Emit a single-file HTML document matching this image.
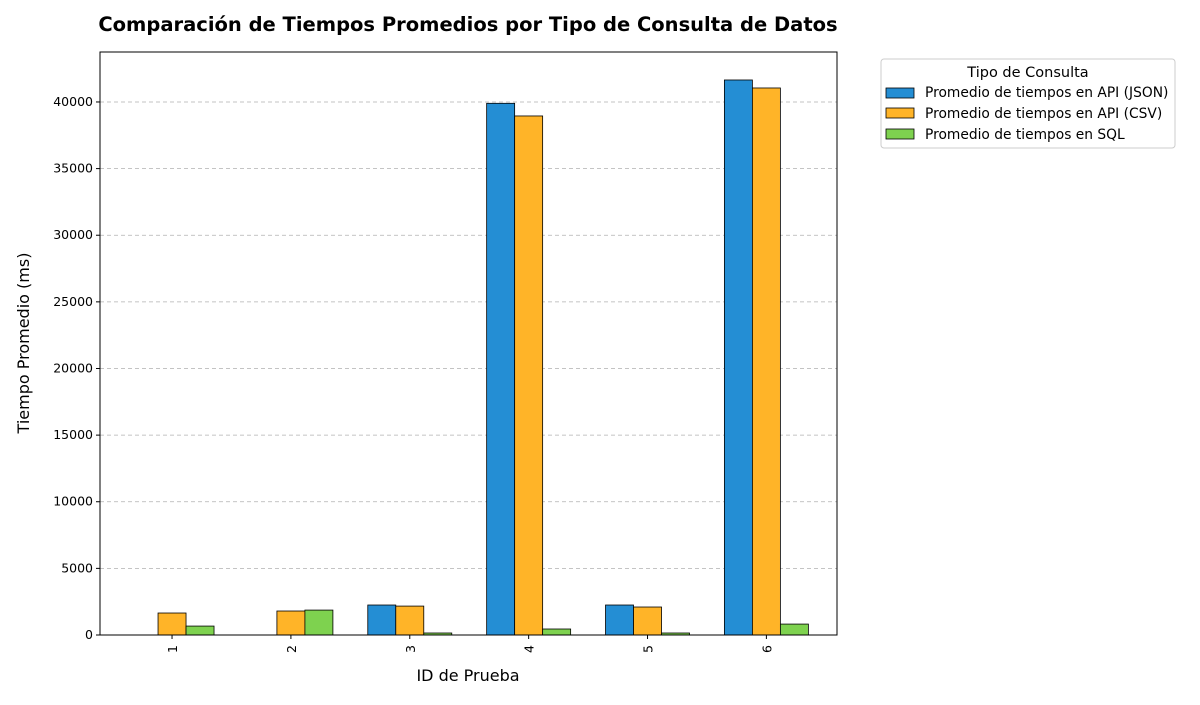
<!DOCTYPE html>
<html><head><meta charset="utf-8"><style>
body{margin:0;background:#fff;}
svg text{font-family:"DejaVu Sans","Liberation Sans",sans-serif;}
</style></head><body>
<svg id="chart" width="1200" height="700" xmlns="http://www.w3.org/2000/svg">
<text x="468" y="31" text-anchor="middle" font-size="19.5" font-weight="bold">Comparación de Tiempos Promedios por Tipo de Consulta de Datos</text>
<g id="grid"></g><g id="bars"></g><g id="axes"></g>
<text x="468" y="681" text-anchor="middle" font-size="16">ID de Prueba</text>
<text transform="translate(29,343) rotate(-90)" text-anchor="middle" font-size="16">Tiempo Promedio (ms)</text>
<g>
<rect x="881" y="59" width="294" height="89" rx="3" fill="#fff" stroke="#ccc"/>
<text x="1028" y="77" text-anchor="middle" font-size="14.5">Tipo de Consulta</text>
<g><rect x="886" y="88" width="28" height="10" fill="#248ed4" stroke="#000" stroke-width="0.8"/><text x="925" y="97" font-size="13.8">Promedio de tiempos en API (JSON)</text></g>
<g><rect x="886" y="108" width="28" height="10" fill="#ffb428" stroke="#000" stroke-width="0.8"/><text x="925" y="118" font-size="13.8">Promedio de tiempos en API (CSV)</text></g>
<g><rect x="886" y="129" width="28" height="10" fill="#7ed24f" stroke="#000" stroke-width="0.8"/><text x="925" y="139" font-size="13.8">Promedio de tiempos en SQL</text></g>
</g>
</svg>
<script>
const categories=["1","2","3","4","5","6"];
const jsonVals=[0,0,2250,39900,2250,41650];
const csvVals=[1650,1800,2170,38950,2100,41050];
const sqlVals=[670,1870,150,450,150,820];
const yTicks=[0,5000,10000,15000,20000,25000,30000,35000,40000];
const NS="http://www.w3.org/2000/svg";
const L=100,R=837,T=52,B=635,yMax=43750;
const y=v=>B-v/yMax*(B-T);
const step=(R-L)/6.2;
const xc=i=>L+step*(0.606+i);
const bw=28;
function mk(tag,attrs,parent){const e=document.createElementNS(NS,tag);for(const k in attrs)e.setAttribute(k,attrs[k]);parent.appendChild(e);return e;}
const grid=document.getElementById('grid'),bars=document.getElementById('bars'),axes=document.getElementById('axes');
yTicks.forEach(t=>{
 const g=mk('line',{x1:L,x2:R,y1:y(t),y2:y(t),stroke:'#b0b0b0','stroke-dasharray':'4,3','stroke-width':0.8},grid);
 
 
 mk('line',{x1:L-4,x2:L,y1:y(t),y2:y(t),stroke:'#000'},axes);
 const tx=mk('text',{x:L-7,y:y(t)+4,'text-anchor':'end','font-size':12.5},axes);
 tx.textContent=t;
 
 
});
const series=[[jsonVals,'#248ed4','json'],[csvVals,'#ffb428','csv'],[sqlVals,'#7ed24f','sql']];
categories.forEach((c,i)=>{
 series.forEach((s,j)=>{
  const v=s[0][i];
  const r=mk('rect',{x:xc(i)+(j-1.5)*bw,y:y(v),width:bw,height:B-y(v),fill:s[1],stroke:'#000','stroke-width':0.8},bars);
  
  
 });
 mk('line',{x1:xc(i),x2:xc(i),y1:B,y2:B+4,stroke:'#000'},axes);
 const tx=mk('text',{transform:`translate(${xc(i)+5},${B+10}) rotate(-90)`,'text-anchor':'end','font-size':12.5},axes);
 tx.textContent=c;
 
 
});
const fr=mk('rect',{x:L,y:T,width:R-L,height:B-T,fill:'none',stroke:'#000','stroke-width':1},axes);


</script>
</body></html>
